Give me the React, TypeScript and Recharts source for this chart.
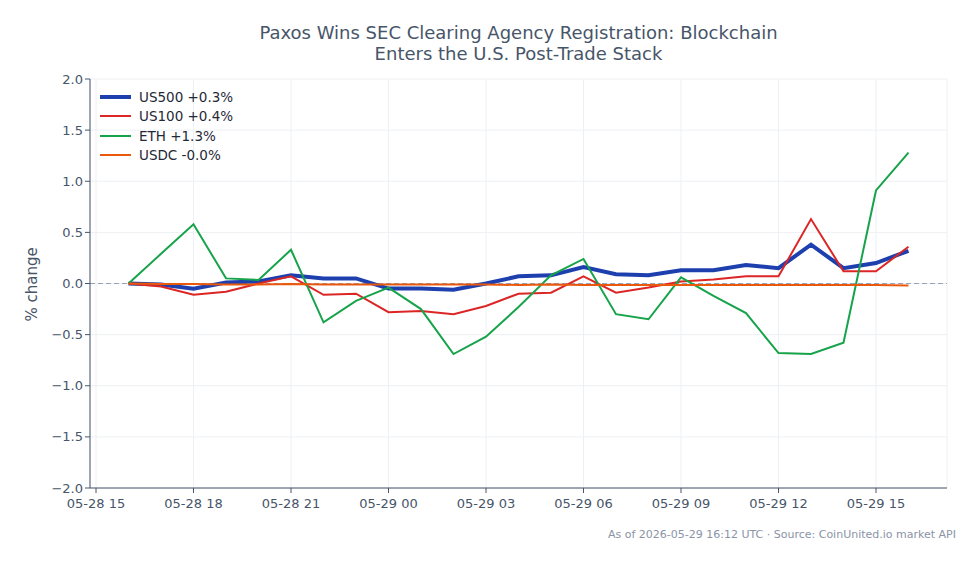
import { LineChart, Line, XAxis, YAxis, CartesianGrid, ReferenceLine } from 'recharts';

// hours since 05-28 00:00 UTC
const hours = [16, 17, 18, 19, 20, 21, 22, 23, 24, 25, 26, 27, 28, 29, 30, 31, 32, 33, 34, 35, 36, 37, 38, 39, 40];

const us500 = [0.0, -0.01, -0.05, 0.01, 0.02, 0.08, 0.05, 0.05, -0.05, -0.05, -0.06, 0.0, 0.07, 0.08, 0.16, 0.09, 0.08, 0.13, 0.13, 0.18, 0.15, 0.38, 0.15, 0.2, 0.32];
const us100 = [0.0, -0.03, -0.11, -0.08, 0.0, 0.07, -0.11, -0.1, -0.28, -0.27, -0.3, -0.22, -0.1, -0.09, 0.07, -0.09, -0.04, 0.02, 0.04, 0.07, 0.07, 0.63, 0.12, 0.12, 0.36];
const eth = [0.0, 0.29, 0.58, 0.05, 0.035, 0.33, -0.38, -0.17, -0.04, -0.25, -0.69, -0.52, -0.23, 0.08, 0.24, -0.3, -0.35, 0.06, -0.12, -0.29, -0.68, -0.69, -0.58, 0.91, 1.28];
const usdc = [0.0, -0.005, -0.005, -0.01, -0.01, -0.005, -0.01, -0.01, -0.01, -0.01, -0.01, -0.01, -0.015, -0.01, -0.015, -0.015, -0.015, -0.015, -0.015, -0.015, -0.015, -0.015, -0.015, -0.015, -0.02];

const xTicks = [15, 18, 21, 24, 27, 30, 33, 36, 39];
const yTicks = [-2, -1.5, -1, -0.5, 0, 0.5, 1, 1.5, 2];

const series = [
  { key: 'us500', label: 'US500 +0.3%', color: '#1e40af', width: 4 },
  { key: 'us100', label: 'US100 +0.4%', color: '#dc2626', width: 2 },
  { key: 'eth', label: 'ETH +1.3%', color: '#16a34a', width: 2 },
  { key: 'usdc', label: 'USDC -0.0%', color: '#ea580c', width: 2 },
];

const data = hours.map((h, i) => ({
  h,
  us500: us500[i],
  us100: us100[i],
  eth: eth[i],
  usdc: usdc[i],
}));

const FONT = '"DejaVu Sans", sans-serif';
const TEXT = '#475569';

function fmtHour(h: number) {
  const day = h >= 24 ? '05-29' : '05-28';
  const hh = String(h % 24).padStart(2, '0');
  return `${day} ${hh}`;
}

function fmtY(v: number) {
  return v.toFixed(1).replace('-', '\u2212');
}

export default function App() {
  return (
    <div style={{ position: 'absolute', left: 0, top: 0, width: 979, height: 564, background: '#fff', fontFamily: FONT }}>
      <div style={{ position: 'absolute', left: 90, width: 857, top: 22, textAlign: 'center', color: TEXT, fontSize: 18, lineHeight: '21px' }}>
        Paxos Wins SEC Clearing Agency Registration: Blockchain
        <br />
        Enters the U.S. Post-Trade Stack
      </div>
      <LineChart width={979} height={564} data={data} margin={{ top: 79, right: 32, bottom: 46, left: 30 }}>
        <CartesianGrid stroke="#edf0f4" />
        <XAxis
          dataKey="h"
          type="number"
          domain={[14.815, 41.185]}
          ticks={xTicks}
          tickFormatter={fmtHour}
          allowDataOverflow
          stroke={TEXT}
          tickSize={5}
          tick={{ fill: TEXT, fontSize: 13, fontFamily: FONT, dy: 4 }}
          height={30}
        />
        <YAxis
          type="number"
          domain={[-2, 2]}
          ticks={yTicks}
          tickFormatter={fmtY}
          stroke={TEXT}
          tickSize={5}
          width={60}
          tick={{ fill: TEXT, fontSize: 13, fontFamily: FONT }}
          label={{ value: '% change', angle: -90, position: 'insideLeft', offset: 2, fill: TEXT, fontSize: 15, fontFamily: FONT, dy: 38 }}
        />
        <ReferenceLine y={0} stroke="#94a3b8" strokeDasharray="5 3" strokeWidth={1} />
        {series.map((s) => (
          <Line
            key={s.key}
            dataKey={s.key}
            type="linear"
            stroke={s.color}
            strokeWidth={s.width}
            dot={false}
            isAnimationActive={false}
          />
        ))}
      </LineChart>
      <div style={{ position: 'absolute', left: 100, top: 87 }}>
        {series.map((s) => (
          <div key={s.key} style={{ display: 'flex', alignItems: 'center', height: 19.5 }}>
            <div style={{ width: 31, height: s.width, background: s.color, marginRight: 8 }} />
            <span style={{ fontSize: 13.5, color: '#1f2937' }}>{s.label}</span>
          </div>
        ))}
      </div>
      <div style={{ position: 'absolute', right: 23, top: 528, fontSize: 11, color: '#8a94a6' }}>
        As of 2026-05-29 16:12 UTC · Source: CoinUnited.io market API
      </div>
    </div>
  );
}
